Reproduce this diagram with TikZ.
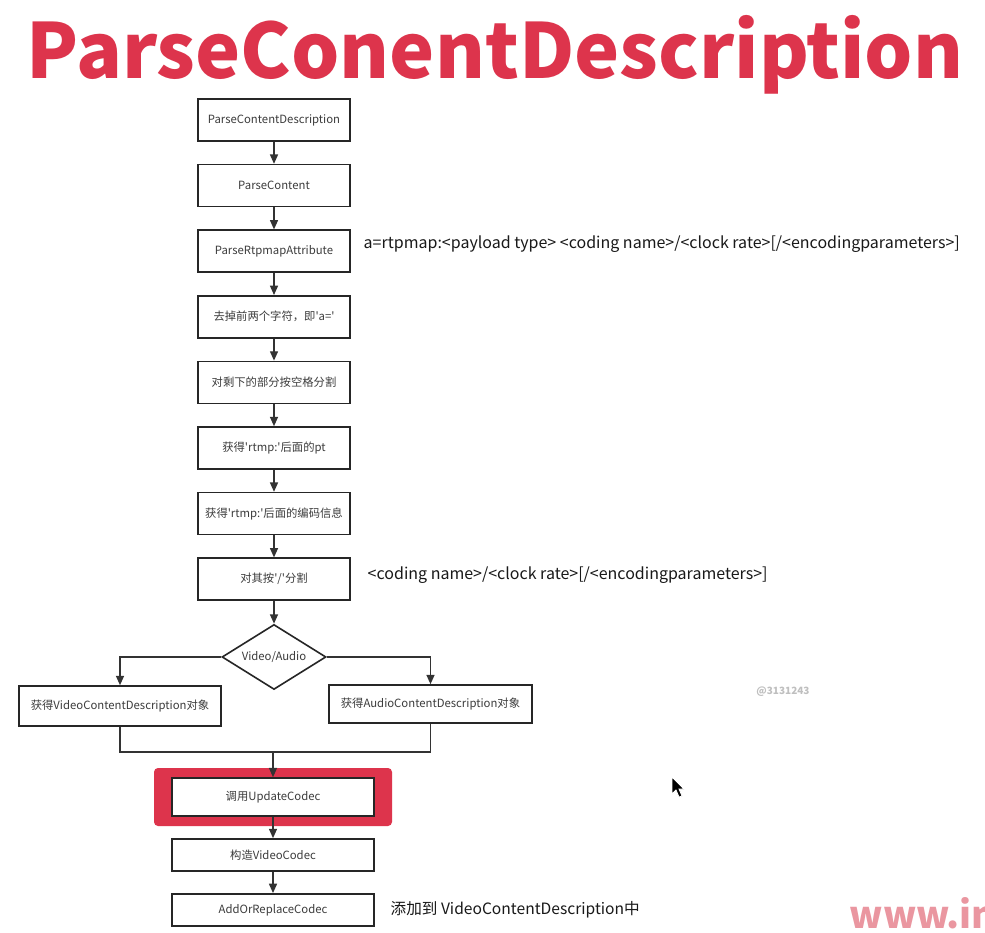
\documentclass[tikz,border=0pt]{standalone}
\usepackage{fontspec}
\setmainfont{Noto Sans CJK SC}[Ligatures=TeXOff]
\usepackage{xcolor}
\usetikzlibrary{arrows.meta, positioning, shapes.geometric}
\definecolor{hlred}{RGB}{221,52,76}
\definecolor{boxtext}{RGB}{60,60,60}
\definecolor{sitepink}{RGB}{234,150,160}

\begin{document}
\begin{tikzpicture}[
    x=0.75pt, y=-0.75pt,
    node distance=16.5pt,
    box/.style={rectangle, draw=black!85, line width=1.2pt, fill=white, minimum width=114pt, minimum height=31.5pt, inner sep=2pt, align=center, font=\fontsize{8.5}{10}\selectfont, text=boxtext},
    choice/.style={diamond, draw=black!85, line width=1.2pt, fill=white, minimum width=78pt, minimum height=48.75pt, aspect=1.6, inner sep=0pt, font=\fontsize{8.5}{10}\selectfont, text=boxtext},
    note/.style={anchor=base west, font=\fontsize{12}{14}\selectfont, text=black!90},
    line/.style={line width=1pt, draw=black!80},
    arrow/.style={line, -{Triangle[length=7pt, width=6pt]}}
]
\path[use as bounding box, fill=white] (0,0) rectangle (985,932);
\clip (0,0) rectangle (985,932);

\node[anchor=base, font=\fontsize{57}{60}\selectfont\bfseries, text=hlred] (title) at (495,78) {ParseConentDescription};

\node[box] (pcd) at (274,120) {ParseContentDescription};
\node[box, below=of pcd] (pc) {ParseContent};
\node[box, below=of pc] (rtpmap) {ParseRtpmapAttribute};
\node[box, below=of rtpmap] (strip) {去掉前两个字符，即'a='};
\node[box, below=of strip] (splitsp) {对剩下的部分按空格分割};
\node[box, below=of splitsp] (getpt) {获得'rtmp:'后面的pt};
\node[box, below=of getpt] (getcodec) {获得'rtmp:'后面的编码信息};
\node[box, below=of getcodec] (splitslash) {对其按'/'分割};
\node[choice, below=17pt of splitslash] (kind) {Video/Audio};

\node[box, minimum width=151.5pt, minimum height=30pt] (vdesc) at (120,706) {获得VideoContentDescription对象};
\node[box, minimum width=152pt, minimum height=28.5pt] (adesc) at (430.5,704) {获得AudioContentDescription对象};
\coordinate (join) at (273,752);

\node[fill=hlred, rounded corners=3pt, minimum width=178.5pt, minimum height=43.5pt] (hl) at (273,797) {};
\node[box, minimum width=151.5pt, minimum height=28.5pt] (upd) at (273,797) {调用UpdateCodec};
\node[box, minimum width=151.5pt, minimum height=24pt, below=16pt of upd] (vcodec) {构造VideoCodec};
\node[box, minimum width=151.5pt, minimum height=24pt, below=16pt of vcodec] (addcodec) {AddOrReplaceCodec};

\node[note] (rtpnote) at (359,248) {a=rtpmap:<payload type> <coding name>/<clock rate>[/<encodingparameters>]};
\node[note] (slashnote) at (363,579) {<coding name>/<clock rate>[/<encodingparameters>]};
\node[note, font=\fontsize{11.7}{14}\selectfont] (addnote) at (386,914) {添加到 VideoContentDescription中};

\node[font=\fontsize{7.5}{9}\selectfont\bfseries, text=black!25] (mark) at (783,692) {@3131243};
\node[anchor=base west, font=\fontsize{28}{32}\selectfont\bfseries, text=sitepink] (site) at (845,928) {www.in};
\fill[black, draw=white, line width=0.6pt] (672,777) -- (672,794) -- (676,790) -- (679,797) -- (682,796) -- (679,789) -- (684,789) -- cycle;

\draw[arrow] (pcd) -- (pc);
\draw[arrow] (pc) -- (rtpmap);
\draw[arrow] (rtpmap) -- (strip);
\draw[arrow] (strip) -- (splitsp);
\draw[arrow] (splitsp) -- (getpt);
\draw[arrow] (getpt) -- (getcodec);
\draw[arrow] (getcodec) -- (splitslash);
\draw[arrow] (splitslash) -- (kind);
\draw[arrow] (kind.west) -| (vdesc.north);
\draw[arrow] (kind.east) -| (adesc.north);
\draw[line] (vdesc.south) |- (join) -| (adesc.south);
\draw[arrow] (join) -- (upd.north);
\draw[arrow] (upd) -- (vcodec);
\draw[arrow] (vcodec) -- (addcodec);
\end{tikzpicture}
\end{document}
